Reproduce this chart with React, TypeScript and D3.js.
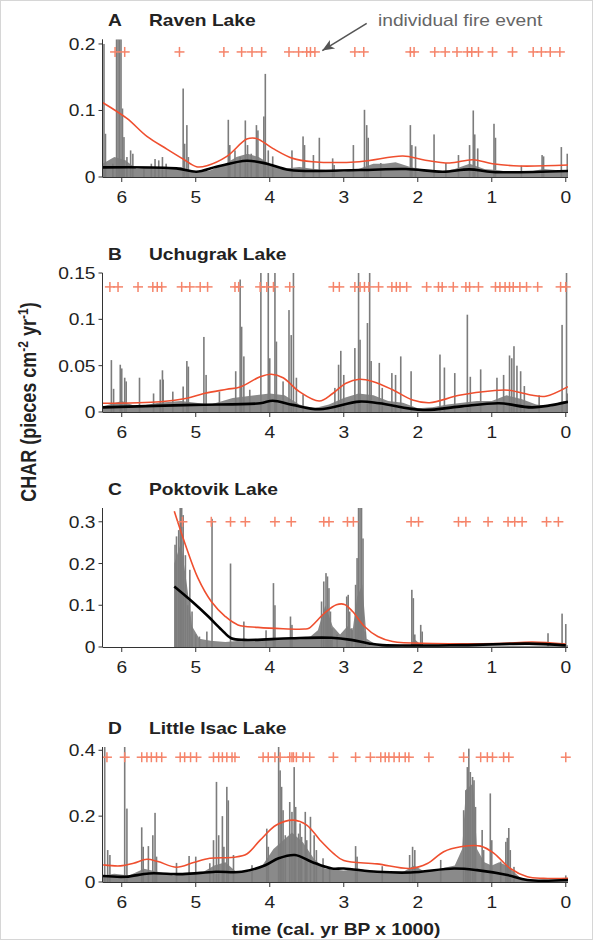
import React from 'react'
import * as d3 from 'd3'

type Pt = [number, number]

const ageTicks = [6, 5, 4, 3, 2, 1, 0]

// ---- A  Raven Lake
const ravenPeaks: Pt[] = [
  [6.24, 0.2], [6.22, 0.065], [6.12, 0.02], [6.07, 0.21], [6.05, 0.21], [6.03, 0.21], [6.01, 0.21], [5.99, 0.103],
  [5.97, 0.06], [5.93, 0.03], [5.88, 0.04], [5.85, 0.035], [5.7, 0.012], [5.6, 0.02], [5.55, 0.027], [5.5, 0.025],
  [5.45, 0.03], [5.4, 0.02], [5.17, 0.133], [5.15, 0.05], [5.12, 0.078], [5.1, 0.03], [4.56, 0.086], [4.54, 0.048],
  [4.47, 0.04], [4.4, 0.03], [4.33, 0.085], [4.3, 0.048], [4.25, 0.035], [4.18, 0.078], [4.16, 0.07], [4.08, 0.091],
  [4.06, 0.155], [4.02, 0.04], [3.96, 0.031], [3.7, 0.04], [3.55, 0.061], [3.53, 0.048], [3.41, 0.033], [3.33, 0.059],
  [3.15, 0.028], [3.13, 0.018], [2.87, 0.048], [2.72, 0.101], [2.69, 0.078], [2.67, 0.059], [2.5, 0.021], [2.1, 0.078],
  [2.08, 0.048], [2.03, 0.046], [1.78, 0.064], [1.62, 0.021], [1.45, 0.033], [1.3, 0.048], [1.25, 0.1], [1.23, 0.064],
  [1.19, 0.043], [0.97, 0.08], [0.95, 0.059], [0.6, 0.017], [0.32, 0.033], [0.3, 0.031], [0.06, 0.045], [-0.02, 0.035],
]
const ravenFloor: Pt[] = [
  [6.26, 0.02], [6.1, 0.03], [5.95, 0.025], [5.8, 0.012], [5.6, 0.015], [5.4, 0.012], [5.2, 0.015], [5.0, 0.006],
  [4.8, 0.01], [4.6, 0.02], [4.45, 0.03], [4.3, 0.035], [4.15, 0.03], [4.0, 0.02], [3.85, 0.012], [3.6, 0.015],
  [3.4, 0.012], [3.2, 0.01], [3.0, 0.008], [2.8, 0.012], [2.6, 0.02], [2.45, 0.02], [2.3, 0.022], [2.1, 0.015],
  [1.9, 0.01], [1.7, 0.008], [1.5, 0.012], [1.3, 0.02], [1.1, 0.012], [0.9, 0.01], [0.7, 0.006], [0.5, 0.008],
  [0.3, 0.012], [0.1, 0.01], [-0.03, 0.01],
]
const ravenThreshold: Pt[] = [
  [6.26, 0.112], [5.93, 0.088], [5.66, 0.061], [5.39, 0.042], [5.17, 0.027], [4.99, 0.0155], [4.85, 0.017],
  [4.58, 0.031], [4.31, 0.057], [4.18, 0.058], [3.96, 0.043], [3.69, 0.028], [3.42, 0.023], [2.79, 0.023],
  [2.2, 0.0315], [1.93, 0.026], [1.57, 0.021], [1.26, 0.026], [0.99, 0.02], [0.63, 0.0165], [-0.03, 0.018],
]
const ravenBackground: Pt[] = [
  [6.26, 0.0145], [5.26, 0.013], [4.99, 0.008], [4.72, 0.0155], [4.31, 0.0245], [4.04, 0.02], [3.73, 0.0105],
  [2.79, 0.0105], [2.16, 0.012], [1.66, 0.008], [1.3, 0.0115], [0.99, 0.0075], [-0.03, 0.009],
]
const ravenFires = [
  6.09, 5.96, 5.22, 4.62, 4.38, 4.24, 4.11, 3.74, 3.61, 3.5, 3.45, 3.39, 2.85, 2.73, 2.1, 2.05, 1.77, 1.63,
  1.47, 1.33, 1.27, 1.18, 0.99, 0.72, 0.44, 0.33, 0.21, 0.08,
]

// ---- B  Uchugrak Lake
const uchugrakPeaks: Pt[] = [
  [6.14, 0.056], [6.11, 0.025], [6.02, 0.051], [6.0, 0.047], [5.96, 0.037], [5.94, 0.033], [5.76, 0.037], [5.57, 0.02],
  [5.48, 0.035], [5.45, 0.045], [5.44, 0.035], [5.31, 0.022], [5.17, 0.0275], [5.12, 0.055], [5.1, 0.049], [4.89, 0.081],
  [4.86, 0.04], [4.68, 0.022], [4.46, 0.044], [4.4, 0.143], [4.38, 0.092], [4.35, 0.06], [4.27, 0.024], [4.12, 0.15],
  [4.02, 0.15], [4.0, 0.058], [3.93, 0.15], [3.91, 0.076], [3.82, 0.033], [3.74, 0.11], [3.71, 0.083], [3.68, 0.15],
  [3.64, 0.037], [3.55, 0.019], [3.12, 0.026], [3.07, 0.051], [3.04, 0.066], [3.0, 0.04], [2.85, 0.069], [2.8, 0.15],
  [2.78, 0.078], [2.68, 0.096], [2.65, 0.15], [2.63, 0.055], [2.52, 0.053], [2.48, 0.026], [2.35, 0.042], [2.3, 0.04],
  [2.23, 0.06], [2.09, 0.044], [1.7, 0.062], [1.64, 0.048], [1.5, 0.042], [1.33, 0.105], [1.29, 0.038], [1.15, 0.046],
  [0.93, 0.037], [0.84, 0.04], [0.76, 0.061], [0.73, 0.058], [0.7, 0.071], [0.66, 0.05], [0.61, 0.044], [0.56, 0.028],
  [0.36, 0.018], [0.05, 0.094], [-0.01, 0.15], [-0.02, 0.02],
]
const uchugrakFloor: Pt[] = [
  [6.26, 0.006], [6.0, 0.012], [5.8, 0.006], [5.5, 0.01], [5.2, 0.012], [5.0, 0.01], [4.8, 0.008], [4.5, 0.015],
  [4.2, 0.018], [4.0, 0.02], [3.8, 0.018], [3.6, 0.008], [3.4, 0.004], [3.2, 0.008], [3.0, 0.015], [2.8, 0.02],
  [2.6, 0.018], [2.4, 0.012], [2.2, 0.01], [2.0, 0.004], [1.8, 0.005], [1.6, 0.008], [1.4, 0.01], [1.2, 0.012],
  [1.0, 0.012], [0.8, 0.018], [0.6, 0.014], [0.4, 0.008], [0.2, 0.006], [0.05, 0.012], [-0.03, 0.012],
]
const uchugrakThreshold: Pt[] = [
  [6.26, 0.0094], [5.48, 0.011], [5.12, 0.0148], [4.89, 0.02], [4.58, 0.0245], [4.4, 0.027], [4.13, 0.038],
  [3.98, 0.0407], [3.82, 0.037], [3.6, 0.022], [3.33, 0.0119], [3.15, 0.02], [2.97, 0.031], [2.79, 0.0353],
  [2.61, 0.033], [2.34, 0.024], [2.07, 0.013], [1.84, 0.01], [1.44, 0.018], [0.99, 0.023], [0.77, 0.0235],
  [0.45, 0.018], [0.27, 0.017], [-0.03, 0.0273],
]
const uchugrakBackground: Pt[] = [
  [6.26, 0.005], [5.03, 0.0077], [4.13, 0.0094], [3.96, 0.0122], [3.69, 0.0077], [3.33, 0.003], [2.79, 0.0112],
  [2.52, 0.0094], [1.93, 0.0022], [1.44, 0.0058], [0.9, 0.0094], [0.45, 0.005], [-0.03, 0.011],
]
const uchugrakFires = [
  6.16, 6.05, 5.78, 5.58, 5.52, 5.46, 5.19, 5.08, 4.94, 4.84, 4.47, 4.42, 4.13, 4.04, 3.95, 3.73,
  3.14, 3.06, 2.85, 2.78, 2.72, 2.66, 2.53, 2.35, 2.29, 2.24, 2.15, 1.88, 1.72, 1.67, 1.52, 1.35, 1.3, 1.18,
  0.95, 0.89, 0.82, 0.76, 0.71, 0.62, 0.53, 0.38, 0.07, 0.0,
]

// ---- C  Poktovik Lake
const poktovikPeaks: Pt[] = [
  [5.28, 0.245], [5.26, 0.265], [5.23, 0.28], [5.21, 0.333], [5.19, 0.333], [5.17, 0.316], [5.14, 0.22], [5.11, 0.1],
  [5.08, 0.185], [5.05, 0.085], [5.0, 0.03], [4.95, 0.025], [4.85, 0.037], [4.78, 0.307], [4.53, 0.2], [4.35, 0.061],
  [4.05, 0.04], [3.95, 0.153], [3.93, 0.1], [3.72, 0.073], [3.7, 0.053], [3.3, 0.109], [3.27, 0.157], [3.24, 0.177],
  [3.22, 0.169], [3.2, 0.141], [3.18, 0.085], [3.16, 0.045], [3.09, 0.03], [2.96, 0.121], [2.94, 0.125], [2.92, 0.085],
  [2.89, 0.045], [2.84, 0.149], [2.82, 0.213], [2.8, 0.333], [2.78, 0.333], [2.76, 0.333], [2.74, 0.26], [2.71, 0.037],
  [2.08, 0.137], [2.06, 0.117], [2.04, 0.03], [1.96, 0.053], [1.94, 0.037], [0.24, 0.033], [0.05, 0.08], [0.0, 0.055],
]
const poktovikFloor: Pt[] = [
  [5.29, 0.2], [5.2, 0.25], [5.12, 0.15], [5.05, 0.05], [4.95, 0.02], [4.8, 0.015], [4.6, 0.012], [4.4, 0.015],
  [4.2, 0.015], [4.0, 0.02], [3.8, 0.02], [3.6, 0.02], [3.45, 0.025], [3.35, 0.04], [3.25, 0.1], [3.15, 0.05],
  [3.05, 0.03], [2.95, 0.05], [2.88, 0.04], [2.82, 0.12], [2.75, 0.15], [2.69, 0.02], [2.55, 0.004], [2.2, 0.002],
  [2.1, 0.004], [2.05, 0.02], [1.95, 0.004], [1.0, 0.002], [0.3, 0.003], [0.1, 0.004], [-0.03, 0.004],
]
const poktovikThreshold: Pt[] = [
  [5.29, 0.325], [5.14, 0.245], [4.97, 0.165], [4.79, 0.109], [4.6, 0.073], [4.43, 0.053], [4.16, 0.047],
  [3.53, 0.043], [3.47, 0.045], [3.26, 0.081], [3.1, 0.101], [2.99, 0.102], [2.88, 0.085], [2.72, 0.049],
  [2.54, 0.025], [2.34, 0.013], [1.8, 0.0085], [0.9, 0.0085], [0.45, 0.012], [0.0, 0.007],
]
const poktovikBackground: Pt[] = [
  [5.29, 0.145], [5.05, 0.109], [4.83, 0.073], [4.65, 0.041], [4.52, 0.021], [4.34, 0.017], [3.71, 0.021],
  [3.17, 0.022], [2.9, 0.017], [2.66, 0.0085], [2.48, 0.0045], [1.4, 0.0045], [0.5, 0.008], [0.0, 0.004],
]
const poktovikFires = [
  5.18, 4.79, 4.53, 4.33, 3.93, 3.71, 3.27, 3.2, 2.95, 2.87, 2.09, 1.99, 1.45, 1.35, 1.05, 0.78, 0.69, 0.59, 0.26, 0.1,
]

// ---- D  Little Isac Lake
const isacPeaks: Pt[] = [
  [6.23, 0.41], [6.19, 0.097], [6.16, 0.082], [5.96, 0.41], [5.93, 0.223], [5.73, 0.166], [5.71, 0.107], [5.64, 0.109],
  [5.58, 0.142], [5.55, 0.21], [5.53, 0.077], [5.26, 0.058], [5.09, 0.079], [5.0, 0.077], [4.81, 0.057], [4.76, 0.127],
  [4.72, 0.304], [4.69, 0.142], [4.64, 0.2], [4.62, 0.107], [4.58, 0.289], [4.56, 0.248], [4.49, 0.082], [4.24, 0.051],
  [4.04, 0.162], [4.02, 0.107], [3.88, 0.41], [3.86, 0.339], [3.84, 0.289], [3.82, 0.218], [3.79, 0.142], [3.73, 0.243],
  [3.7, 0.213], [3.67, 0.349], [3.65, 0.228], [3.61, 0.147], [3.59, 0.178], [3.57, 0.137], [3.52, 0.213], [3.5, 0.127],
  [3.45, 0.198], [3.4, 0.142], [3.37, 0.097], [3.28, 0.072], [3.19, 0.046], [2.84, 0.109], [2.82, 0.077], [2.48, 0.048],
  [2.11, 0.082], [2.07, 0.107], [2.04, 0.097], [1.69, 0.067], [1.38, 0.218], [1.35, 0.279], [1.33, 0.349], [1.31, 0.405],
  [1.29, 0.334], [1.26, 0.319], [1.24, 0.309], [1.22, 0.228], [1.13, 0.158], [1.11, 0.097], [1.02, 0.269], [1.0, 0.127],
  [0.88, 0.062], [0.81, 0.122], [0.79, 0.134], [0.77, 0.164], [0.75, 0.097], [0.7, 0.046], [0.0, 0.02],
]
const isacFloor: Pt[] = [
  [6.26, 0.02], [6.1, 0.025], [5.9, 0.02], [5.7, 0.04], [5.5, 0.03], [5.3, 0.02], [5.1, 0.025], [4.9, 0.03],
  [4.75, 0.05], [4.6, 0.06], [4.45, 0.03], [4.3, 0.03], [4.1, 0.05], [3.95, 0.1], [3.85, 0.12], [3.7, 0.15],
  [3.55, 0.12], [3.4, 0.07], [3.25, 0.04], [3.0, 0.035], [2.8, 0.04], [2.6, 0.03], [2.4, 0.03], [2.2, 0.03],
  [2.05, 0.05], [1.9, 0.03], [1.7, 0.04], [1.5, 0.05], [1.4, 0.1], [1.35, 0.28], [1.25, 0.3], [1.2, 0.1],
  [1.1, 0.06], [1.0, 0.05], [0.9, 0.06], [0.8, 0.05], [0.7, 0.03], [0.6, 0.01], [0.4, 0.003], [0.1, 0.003], [-0.03, 0.003],
]
const isacThreshold: Pt[] = [
  [6.25, 0.052], [6.02, 0.049], [5.84, 0.057], [5.66, 0.069], [5.51, 0.062], [5.26, 0.045], [5.03, 0.059],
  [4.81, 0.072], [4.49, 0.075], [4.31, 0.085], [4.13, 0.127], [3.91, 0.173], [3.68, 0.188], [3.5, 0.173],
  [3.32, 0.127], [3.14, 0.087], [3.0, 0.065], [2.55, 0.055], [2.1, 0.041], [1.87, 0.056], [1.65, 0.092],
  [1.42, 0.107], [1.15, 0.109], [0.97, 0.087], [0.75, 0.041], [0.52, 0.016], [0.3, 0.011], [-0.03, 0.011],
]
const isacBackground: Pt[] = [
  [6.26, 0.018], [5.94, 0.016], [5.63, 0.026], [5.18, 0.024], [4.73, 0.031], [4.38, 0.031], [4.06, 0.051],
  [3.88, 0.072], [3.66, 0.082], [3.43, 0.061], [3.16, 0.041], [3.0, 0.041], [2.55, 0.031], [2.1, 0.029],
  [1.51, 0.041], [1.2, 0.036], [0.79, 0.021], [0.52, 0.006], [-0.03, 0.006],
]
const isacFires = [
  6.2, 5.96, 5.73, 5.66, 5.6, 5.53, 5.46, 5.21, 5.15, 5.07, 4.99, 4.76, 4.69, 4.64, 4.58, 4.51, 4.47,
  4.09, 4.02, 3.93, 3.86, 3.73, 3.7, 3.68, 3.64, 3.55, 3.46, 3.14, 2.84, 2.64, 2.5, 2.44, 2.39, 2.32, 2.25,
  2.17, 2.12, 1.85, 1.38, 1.15, 1.06, 0.99, 0.84, 0.77, 0.0,
]

const arrowFrom: Pt = [2.69, 0.231]
const arrowTo: Pt = [3.29, 0.19]

const panels = [
  { letter: 'A', name: 'Raven Lake', peaks: ravenPeaks, floor: ravenFloor, threshold: ravenThreshold,
    background: ravenBackground, fires: ravenFires, fireLevel: 0.188, yMax: 0.207, yTicks: [0, 0.1, 0.2], bottom: 177, top: 39.3 },
  { letter: 'B', name: 'Uchugrak Lake', peaks: uchugrakPeaks, floor: uchugrakFloor, threshold: uchugrakThreshold,
    background: uchugrakBackground, fires: uchugrakFires, fireLevel: 0.135, yMax: 0.15, yTicks: [0, 0.05, 0.1, 0.15], bottom: 412, top: 273 },
  { letter: 'C', name: 'Poktovik Lake', peaks: poktovikPeaks, floor: poktovikFloor, threshold: poktovikThreshold,
    background: poktovikBackground, fires: poktovikFires, fireLevel: 0.3, yMax: 0.333, yTicks: [0, 0.1, 0.2, 0.3], bottom: 647, top: 508 },
  { letter: 'D', name: 'Little Isac Lake', peaks: isacPeaks, floor: isacFloor, threshold: isacThreshold,
    background: isacBackground, fires: isacFires, fireLevel: 0.379, yMax: 0.41, yTicks: [0, 0.2, 0.4], bottom: 882, top: 747 },
]

const FONT = '"Liberation Sans", Arial, Helvetica, sans-serif'
const SX = 1.2 // the figure is stretched horizontally
const x = d3.scaleLinear().domain([6.26, -0.03]).range([102.5, 568])

function T({ x0, y0, anchor = 'start', bold = false, size = 16, fill = '#222', children }: any) {
  return (
    <text transform={`translate(${x0},${y0}) scale(${SX},1)`} textAnchor={anchor} fontFamily={FONT}
      fontWeight={bold ? 'bold' : 'normal'} fontSize={size} fill={fill}>{children}</text>
  )
}

function Panel({ p, i }: any) {
  const y = d3.scaleLinear().domain([0, p.yMax]).range([p.bottom, p.top])
  const line = d3.line<Pt>().x(d => x(d[0])).y(d => y(d[1])).curve(d3.curveCatmullRom.alpha(0.5))
  const area = d3.area<Pt>().x(d => x(d[0])).y0(p.bottom).y1(d => y(d[1]))
  const [x0, x1] = x.range()
  const clipId = `clip${i}`
  return (
    <g>
      <clipPath id={clipId}><rect x={x0} y={p.top} width={x1 - x0} height={p.bottom - p.top} /></clipPath>
      <g clipPath={`url(#${clipId})`}>
        <path d={area(p.floor) || ''} fill="#8a8a8a" />
        {p.peaks.map((d: Pt, k: number) => (
          <rect key={k} x={x(d[0]) - 0.8} width={1.6} y={y(Math.min(d[1], p.yMax))}
            height={p.bottom - y(Math.min(d[1], p.yMax))} fill="#7c7c7c" />
        ))}
        <path d={line(p.threshold) || ''} fill="none" stroke="#ef4f2f" strokeWidth={1.6} />
        <path d={line(p.background) || ''} fill="none" stroke="#000" strokeWidth={2.6} />
      </g>
      {p.fires.map((a: number, k: number) => (
        <g key={k} transform={`translate(${x(a)},${y(p.fireLevel)})`} stroke="#f5846a" strokeWidth={1.5}>
          <line x1={-5} x2={5} y1={0} y2={0} />
          <line x1={0} x2={0} y1={-5} y2={5} />
        </g>
      ))}
      <line x1={x0} x2={x0} y1={p.bottom} y2={p.top} stroke="#333" />
      <line x1={x0} x2={x1} y1={p.bottom + 0.5} y2={p.bottom + 0.5} stroke="#333" />
      {p.yTicks.map((t: number) => (
        <g key={t}>
          <line x1={x0 - 4} x2={x0} y1={y(t)} y2={y(t)} stroke="#333" />
          <T x0={x0 - 7} y0={y(t) + 6} anchor="end">{String(t)}</T>
        </g>
      ))}
      {ageTicks.map(t => (
        <g key={t}>
          <line x1={x(t)} x2={x(t)} y1={p.bottom} y2={p.bottom + 5} stroke="#333" />
          <T x0={x(t)} y0={p.bottom + 26} anchor="middle">{String(t)}</T>
        </g>
      ))}
      <T x0={108} y0={p.top - 13} bold>{p.letter}</T>
      <T x0={149} y0={p.top - 13} bold>{p.name}</T>
      {i === 0 && (() => {
        const ax = x(arrowFrom[0]), ay = y(arrowFrom[1]), bx = x(arrowTo[0]), by = y(arrowTo[1])
        const ang = Math.atan2(by - ay, bx - ax) * 180 / Math.PI
        return (
          <g>
            <line x1={ax} y1={ay} x2={bx} y2={by} stroke="#555" strokeWidth={1.6} />
            <path d="M0,0 L-12,-5 L-9,0 L-12,5 Z" fill="#555" transform={`translate(${bx},${by}) rotate(${ang})`} />
            <T x0={378} y0={26} fill="#666">individual fire event</T>
          </g>
        )
      })()}
    </g>
  )
}

export default function App() {
  return (
    <svg width={593} height={940} style={{ position: 'absolute', left: 0, top: 0, background: '#fff' }}>
      <rect x={0.5} y={0.5} width={592} height={939} fill="#fff" stroke="#d6d6d6" />
      {panels.map((p, i) => <Panel key={p.letter} p={p} i={i} />)}
      <text transform={`translate(36,402) scale(${SX},1) rotate(-90)`} textAnchor="middle" fontFamily={FONT}
        fontWeight="bold" fontSize={18} fill="#222">
        CHAR (pieces cm<tspan dy={-7} fontSize={12}>-2</tspan><tspan dy={7}> yr</tspan>
        <tspan dy={-7} fontSize={12}>-1</tspan><tspan dy={7}>)</tspan>
      </text>
      <T x0={336} y0={935} anchor="middle" bold>time (cal. yr BP x 1000)</T>
    </svg>
  )
}
